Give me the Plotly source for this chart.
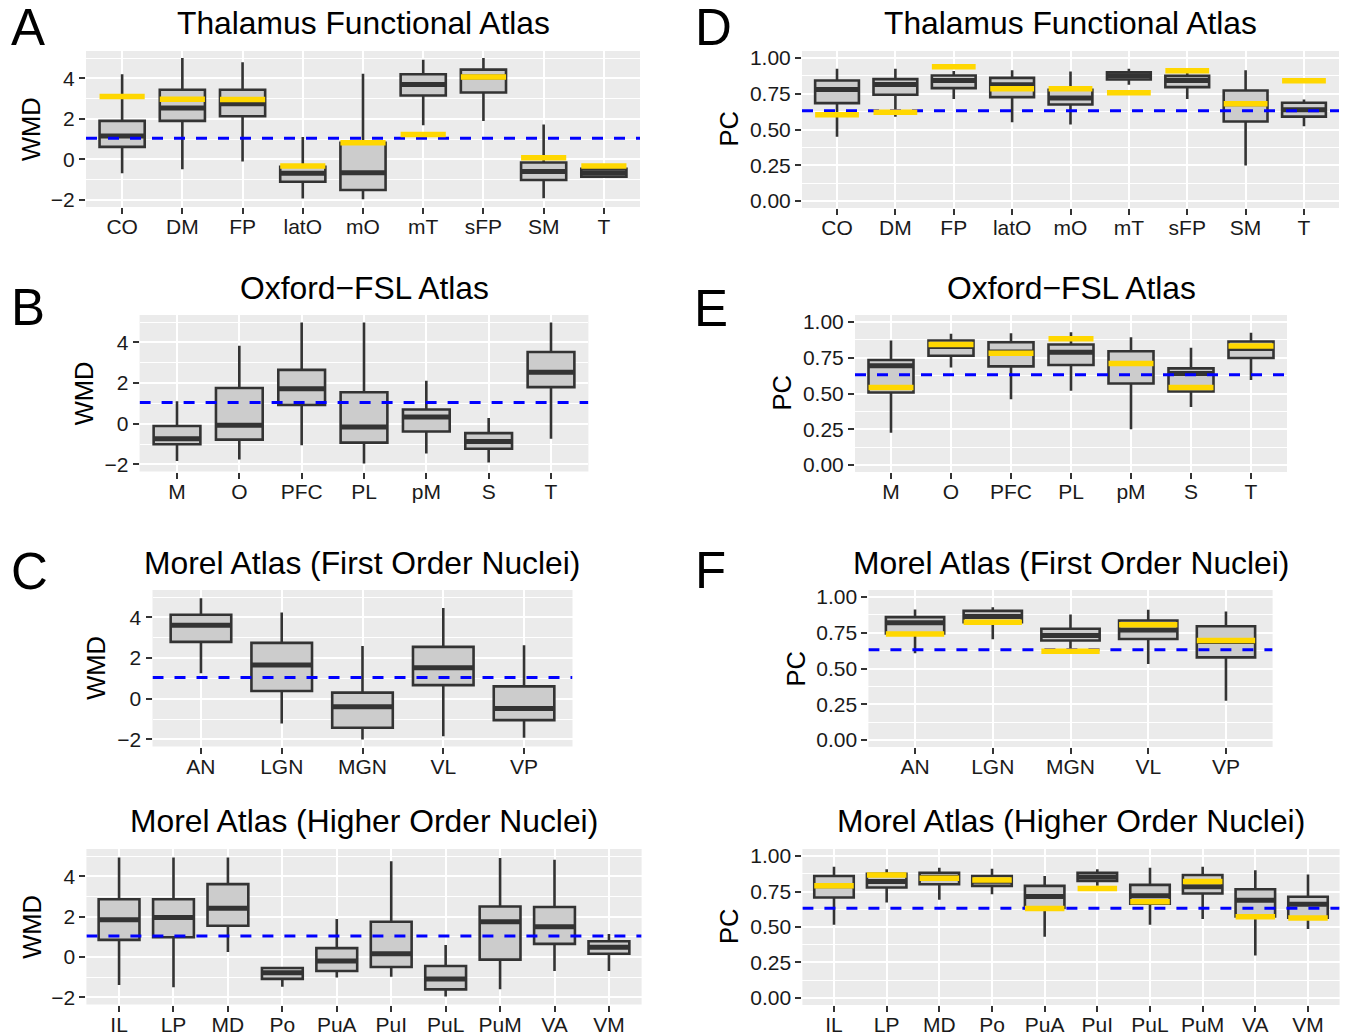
import plotly.graph_objects as go

W, H = 1347, 1036
FONT = "Liberation Sans, Arial, Helvetica, sans-serif"

# ---------------- data ----------------
WMD_TICKS = [-2, 0, 2, 4]
WMD_TICKTEXT = ["\u22122", "0", "2", "4"]
WMD_MINOR = [-1, 1, 3, 5]
PC_TICKS = [0.0, 0.25, 0.5, 0.75, 1.0]
PC_TICKTEXT = ["0.00", "0.25", "0.50", "0.75", "1.00"]
PC_MINOR = [0.125, 0.375, 0.625, 0.875]
WMD_THRESHOLD = 1.04
PC_THRESHOLD = 0.632

# A: Thalamus Functional Atlas, WMD
A_CATS = ["CO", "DM", "FP", "latO", "mO", "mT", "sFP", "SM", "T"]
A_LO = [-0.69, -0.49, -0.11, -1.93, -1.97, 1.69, 1.90, -1.92, -0.88]
A_Q1 = [0.62, 1.90, 2.13, -1.10, -1.51, 3.15, 3.30, -1.02, -0.85]
A_MED = [1.15, 2.54, 2.75, -0.69, -0.66, 3.70, 4.07, -0.60, -0.66]
A_Q3 = [1.90, 3.44, 3.44, -0.36, 0.82, 4.20, 4.43, -0.15, -0.47]
A_HI = [4.20, 5.00, 4.80, 1.11, 4.23, 4.92, 5.00, 1.72, -0.45]
A_REF = [3.10, 2.97, 2.95, -0.33, 0.82, 1.23, 4.07, 0.08, -0.33]

# D: Thalamus Functional Atlas, PC
D_CATS = ["CO", "DM", "FP", "latO", "mO", "mT", "sFP", "SM", "T"]
D_LO = [0.450, 0.590, 0.713, 0.550, 0.535, 0.813, 0.713, 0.248, 0.523]
D_Q1 = [0.685, 0.743, 0.790, 0.727, 0.675, 0.850, 0.797, 0.556, 0.590]
D_MED = [0.780, 0.815, 0.843, 0.813, 0.720, 0.876, 0.843, 0.680, 0.638]
D_Q3 = [0.843, 0.853, 0.878, 0.862, 0.778, 0.900, 0.876, 0.773, 0.687]
D_HI = [0.925, 0.925, 0.910, 0.915, 0.907, 0.925, 0.900, 0.916, 0.710]
D_REF = [0.603, 0.620, 0.940, 0.785, 0.785, 0.757, 0.911, 0.680, 0.841]

# B: Oxford-FSL Atlas, WMD
B_CATS = ["M", "O", "PFC", "PL", "pM", "S", "T"]
B_LO = [-1.83, -1.76, -1.06, -1.96, -1.47, -1.91, -0.74]
B_Q1 = [-1.01, -0.78, 0.92, -0.93, -0.38, -1.23, 1.80]
B_MED = [-0.74, -0.08, 1.72, -0.16, 0.33, -0.87, 2.53]
B_Q3 = [-0.11, 1.76, 2.65, 1.55, 0.70, -0.46, 3.53]
B_HI = [1.11, 3.84, 4.98, 4.98, 2.12, 0.28, 4.98]

# E: Oxford-FSL Atlas, PC
E_CATS = ["M", "O", "PFC", "PL", "pM", "S", "T"]
E_LO = [0.225, 0.683, 0.460, 0.519, 0.249, 0.406, 0.594]
E_Q1 = [0.507, 0.765, 0.690, 0.700, 0.570, 0.514, 0.749]
E_MED = [0.695, 0.830, 0.790, 0.789, 0.711, 0.641, 0.815]
E_Q3 = [0.735, 0.871, 0.859, 0.843, 0.796, 0.676, 0.864]
E_HI = [0.871, 0.918, 0.923, 0.930, 0.894, 0.820, 0.925]
E_REF = [0.542, 0.843, 0.782, 0.883, 0.711, 0.542, 0.833]

# C: Morel Atlas (First Order Nuclei), WMD
C_CATS = ["AN", "LGN", "MGN", "VL", "VP"]
C_LO = [1.25, -1.22, -2.00, -1.84, -1.92]
C_Q1 = [2.80, 0.38, -1.43, 0.67, -1.05]
C_MED = [3.62, 1.66, -0.39, 1.53, -0.48]
C_Q3 = [4.13, 2.75, 0.30, 2.55, 0.61]
C_HI = [4.95, 4.24, 2.60, 4.46, 2.63]

# F: Morel Atlas (First Order Nuclei), PC
F_CATS = ["AN", "LGN", "MGN", "VL", "VP"]
F_LO = [0.607, 0.705, 0.602, 0.532, 0.274]
F_Q1 = [0.745, 0.825, 0.696, 0.707, 0.578]
F_MED = [0.820, 0.864, 0.731, 0.770, 0.690]
F_Q3 = [0.860, 0.904, 0.778, 0.836, 0.796]
F_HI = [0.913, 0.930, 0.878, 0.911, 0.900]
F_REF = [0.742, 0.824, 0.620, 0.806, 0.696]

# G: Morel Atlas (Higher Order Nuclei), WMD
G_CATS = ["IL", "LP", "MD", "Po", "PuA", "PuI", "PuL", "PuM", "VA", "VM"]
G_LO = [-1.39, -1.50, 0.25, -1.47, -1.01, -0.98, -1.96, -1.60, -0.69, -0.69]
G_Q1 = [0.85, 0.98, 1.55, -1.08, -0.69, -0.49, -1.60, -0.13, 0.65, 0.16]
G_MED = [1.85, 1.96, 2.42, -0.78, -0.20, 0.16, -1.09, 1.75, 1.50, 0.49]
G_Q3 = [2.86, 2.86, 3.61, -0.54, 0.44, 1.75, -0.44, 2.50, 2.48, 0.78]
G_HI = [4.93, 4.93, 4.93, -0.50, 1.88, 4.74, 0.60, 4.90, 4.82, 1.14]

# H: Morel Atlas (Higher Order Nuclei), PC
H_CATS = ["IL", "LP", "MD", "Po", "PuA", "PuI", "PuL", "PuM", "VA", "VM"]
H_LO = [0.516, 0.673, 0.692, 0.731, 0.432, 0.790, 0.516, 0.556, 0.299, 0.486]
H_Q1 = [0.708, 0.778, 0.801, 0.790, 0.635, 0.825, 0.665, 0.736, 0.575, 0.565]
H_MED = [0.790, 0.820, 0.850, 0.822, 0.715, 0.853, 0.720, 0.783, 0.689, 0.661]
H_Q3 = [0.860, 0.876, 0.883, 0.860, 0.790, 0.883, 0.797, 0.867, 0.766, 0.713]
H_HI = [0.925, 0.907, 0.918, 0.911, 0.860, 0.907, 0.918, 0.925, 0.900, 0.871]
H_REF = [0.790, 0.867, 0.843, 0.832, 0.631, 0.771, 0.678, 0.820, 0.572, 0.563]

# ---------------- layout of panels (pixel boxes of plot areas) ----------------
panels = [
    dict(cats=A_CATS, lo=A_LO, q1=A_Q1, med=A_MED, q3=A_Q3, hi=A_HI, ref=A_REF, metric="WMD",
         box=(86, 640, 51, 207), ytx=31, title="Thalamus Functional Atlas", letter="A", lpos=(28, 27)),
    dict(cats=B_CATS, lo=B_LO, q1=B_Q1, med=B_MED, q3=B_Q3, hi=B_HI, ref=None, metric="WMD",
         box=(139.6, 588.4, 315, 471.5), ytx=84, title="Oxford\u2212FSL Atlas", letter="B", lpos=(28, 307)),
    dict(cats=C_CATS, lo=C_LO, q1=C_Q1, med=C_MED, q3=C_Q3, hi=C_HI, ref=None, metric="WMD",
         box=(152.5, 572.5, 590, 746.5), ytx=96.5, title="Morel Atlas (First Order Nuclei)", letter="C", lpos=(29, 571)),
    dict(cats=G_CATS, lo=G_LO, q1=G_Q1, med=G_MED, q3=G_Q3, hi=G_HI, ref=None, metric="WMD",
         box=(86.4, 641.6, 849, 1004.5), ytx=32, title="Morel Atlas (Higher Order Nuclei)", letter=None, lpos=None),
    dict(cats=D_CATS, lo=D_LO, q1=D_Q1, med=D_MED, q3=D_Q3, hi=D_HI, ref=D_REF, metric="PC",
         box=(802, 1339, 51, 208), ytx=728, title="Thalamus Functional Atlas", letter="D", lpos=(713, 27)),
    dict(cats=E_CATS, lo=E_LO, q1=E_Q1, med=E_MED, q3=E_Q3, hi=E_HI, ref=E_REF, metric="PC",
         box=(855, 1287, 315, 472), ytx=782, title="Oxford\u2212FSL Atlas", letter="E", lpos=(711, 308)),
    dict(cats=F_CATS, lo=F_LO, q1=F_Q1, med=F_MED, q3=F_Q3, hi=F_HI, ref=F_REF, metric="PC",
         box=(868.4, 1272.6, 590, 747), ytx=795, title="Morel Atlas (First Order Nuclei)", letter="F", lpos=(710, 570)),
    dict(cats=H_CATS, lo=H_LO, q1=H_Q1, med=H_MED, q3=H_Q3, hi=H_HI, ref=H_REF, metric="PC",
         box=(802.4, 1339.6, 849, 1005), ytx=729, title="Morel Atlas (Higher Order Nuclei)", letter=None, lpos=None),
]
TITLE_Y = {51: 23, 315: 288, 590: 562.5, 849: 820.5}

BOX_W = 0.75
BOX_FILL = "#CCCCCC"
DARK = "#333333"
GOLD = "#FFD700"

fig = go.Figure()
annotations = []
layout_axes = {}


def seg(pos, vals, half):
    xs, ys = [], []
    for p, v in zip(pos, vals):
        xs += [p - half, p + half, None]
        ys += [v, v, None]
    return xs, ys


for i, p in enumerate(panels, start=1):
    n = len(p["cats"])
    pos = list(range(1, n + 1))
    xa, ya = f"x{i}", f"y{i}"
    fig.add_trace(go.Box(
        x=pos, q1=p["q1"], median=p["med"], q3=p["q3"],
        lowerfence=p["lo"], upperfence=p["hi"],
        width=BOX_W, whiskerwidth=0, boxpoints=False,
        fillcolor=BOX_FILL, line=dict(color=DARK, width=2.6),
        xaxis=xa, yaxis=ya, showlegend=False, hoverinfo="skip"))
    mx, my = seg(pos, p["med"], BOX_W / 2)
    fig.add_trace(go.Scatter(x=mx, y=my, mode="lines", line=dict(color=DARK, width=5),
                             xaxis=xa, yaxis=ya, showlegend=False, hoverinfo="skip"))
    thr = WMD_THRESHOLD if p["metric"] == "WMD" else PC_THRESHOLD
    fig.add_trace(go.Scatter(x=[0.4, n + 0.6], y=[thr, thr], mode="lines",
                             line=dict(color="#0000FF", width=3, dash="11px,11px"),
                             xaxis=xa, yaxis=ya, showlegend=False, hoverinfo="skip"))
    if p["ref"] is not None:
        rx, ry = seg(pos, p["ref"], BOX_W / 2)
        fig.add_trace(go.Scatter(x=rx, y=ry, mode="lines", line=dict(color=GOLD, width=5.5),
                                 xaxis=xa, yaxis=ya, showlegend=False, hoverinfo="skip"))

    x0, x1, y0, y1 = p["box"]
    if p["metric"] == "WMD":
        yr, tv, tt, minor = [-2.35, 5.35], WMD_TICKS, WMD_TICKTEXT, WMD_MINOR
    else:
        yr, tv, tt, minor = [-0.05, 1.05], PC_TICKS, PC_TICKTEXT, PC_MINOR
    sfx = "" if i == 1 else str(i)
    layout_axes["xaxis" + sfx] = dict(
        domain=[x0 / W, x1 / W], range=[0.4, n + 0.6], anchor=ya, automargin=False,
        tickmode="array", tickvals=pos, ticktext=p["cats"],
        showgrid=True, gridcolor="white", gridwidth=2.2, zeroline=False, showline=False,
        ticks="outside", ticklen=6, tickwidth=2.2, tickcolor=DARK, ticklabelstandoff=-5,
        tickfont=dict(family=FONT, size=21, color="#1A1A1A"), fixedrange=True)
    layout_axes["yaxis" + sfx] = dict(
        domain=[1 - y1 / H, 1 - y0 / H], range=yr, anchor=xa, automargin=False,
        tickmode="array", tickvals=tv, ticktext=tt,
        showgrid=True, gridcolor="white", gridwidth=2.2, zeroline=False, showline=False,
        ticks="outside", ticklen=6, tickwidth=2.2, tickcolor=DARK,
        tickfont=dict(family=FONT, size=21, color="#1A1A1A"),
        minor=dict(tickmode="array", tickvals=minor, showgrid=True, gridcolor="white",
                   gridwidth=1.1, ticks=""),
        fixedrange=True)
    # axis title (y)
    annotations.append(dict(
        x=p["ytx"] / W, y=1 - (y0 + y1) / 2 / H, xref="paper", yref="paper",
        text=p["metric"], textangle=-90, showarrow=False,
        xanchor="center", yanchor="middle",
        font=dict(family=FONT, size=25.5, color="black")))
    # panel title
    annotations.append(dict(
        x=(x0 + x1) / 2 / W, y=1 - TITLE_Y[y0] / H, xref="paper", yref="paper",
        text=p["title"], showarrow=False, xanchor="center", yanchor="middle",
        font=dict(family=FONT, size=31.8, color="black")))
    if p["letter"]:
        lx, ly = p["lpos"]
        annotations.append(dict(
            x=lx / W, y=1 - ly / H, xref="paper", yref="paper", text=p["letter"],
            showarrow=False, xanchor="center", yanchor="middle",
            font=dict(family=FONT, size=51, color="black")))

fig.update_layout(
    width=W, height=H, autosize=False,
    margin=dict(l=0, r=0, t=0, b=0, autoexpand=False),
    paper_bgcolor="white", plot_bgcolor="#EBEBEB",
    font=dict(family=FONT, color="black"),
    showlegend=False, annotations=annotations, **layout_axes)

fig.write_html("out.html", config={"displayModeBar": False},
               post_script="document.body.style.margin='0';document.body.style.overflow='hidden';")
